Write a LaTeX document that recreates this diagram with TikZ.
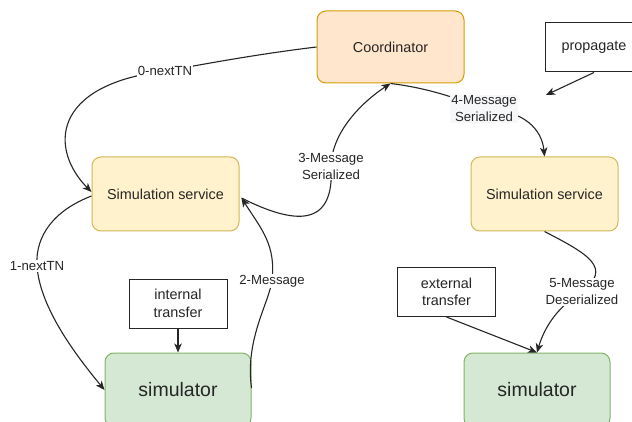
\documentclass[tikz,border=0pt]{standalone}
\usepackage{fontspec}
\setmainfont{Liberation Sans}
\usetikzlibrary{arrows.meta,calc}
\definecolor{orfill}{HTML}{FFE6CC}
\definecolor{orline}{HTML}{D79B00}
\definecolor{yefill}{HTML}{FFF2CC}
\definecolor{yeline}{HTML}{D6B656}
\definecolor{grfill}{HTML}{D5E8D4}
\definecolor{grline}{HTML}{82B366}
\definecolor{txt}{HTML}{262626}
\definecolor{labbg}{HTML}{F6F7F9}
\begin{document}
\begin{tikzpicture}[x=1pt,y=-1pt,
  rbox/.style={rectangle, rounded corners=9pt, line width=1pt, align=center, text=txt,
    font=\fontsize{14.4}{17}\selectfont, inner sep=0pt},
  coordbox/.style={rbox, fill=orfill, draw=orline, minimum width=147pt, minimum height=72pt},
  servbox/.style={rbox, fill=yefill, draw=yeline, minimum width=147pt, minimum height=74pt},
  simbox/.style={rbox, fill=grfill, draw=grline, minimum width=146pt, minimum height=74pt,
    font=\fontsize{19.5}{22}\selectfont},
  plainbox/.style={rectangle, draw=black!85, fill=white, line width=1pt, align=center, text=txt,
    font=\fontsize{14.4}{17.5}\selectfont, minimum width=98pt, minimum height=49pt, inner sep=0pt},
  edge/.style={draw=black!85, line width=1.1pt, -{Stealth[length=9pt,width=7.5pt,inset=2.5pt]}},
  lab/.style={fill=white, inner sep=1pt, text=txt, align=center, font=\fontsize{13.2}{17}\selectfont},
  labgray/.style={lab, fill=labbg}
]
\useasboundingbox (0,0) rectangle (632,422);
\clip (0,0) rectangle (632,422);
\fill[white] (0,0) rectangle (632,422);

% nodes
\node[coordbox] (coord) at (390.5,47) {Coordinator};
\node[servbox] (ss1) at (165.5,194) {Simulation service};
\node[servbox] (ss2) at (544.5,194) {Simulation service};
\node[simbox] (sim1) at (178,390) {simulator};
\node[simbox] (sim2) at (537,390) {simulator};
\node[plainbox] (int) at (178,303.5) {internal\\transfer};
\node[plainbox] (ext) at (446.5,292) {external\\transfer};
\node[plainbox] (prop) at (594,47.5) {propagate};
\coordinate (ptip) at (546,95);

% edges
\draw[edge] (coord.west) .. controls (250,55) and (195,66) .. (165,71) node[lab]{0-nextTN}
  .. controls (50,85) and (50,150) .. ($(ss1.west)+(0,-2)$);
\draw[edge] ($(ss1.west)+(0,2)$) .. controls (55,210) and (35,235) .. (37,266) node[lab]{1-nextTN}
  .. controls (40,310) and (80,360) .. (sim1.west);
\draw[edge] ($(sim1.east)+(0,-2)$) .. controls (245,340) and (268,305) .. (272,281) node[lab]{2-Message}
  .. controls (276,245) and (262,230) .. ($(ss1.east)+(2,4)$);
\draw[edge] ($(ss1.east)+(2,4)$) .. controls (295,225) and (335,228) .. (331,166) node[lab]{3-Message\\Serialized}
  .. controls (332,130) and (365,100) .. (coord.south);
\draw[edge] (coord.south) .. controls (420,87) and (450,95) .. (484,109) node[labgray]{4-Message\\Serialized}
  .. controls (525,110) and (542,130) .. (ss2.north);
\draw[edge] (prop.south) -- (ptip);
\draw[edge] (ss2.south) .. controls (590,255) and (612,268) .. (582,292) node[lab]{5-Message\\Deserialized}
  .. controls (560,305) and (545,325) .. (sim2.north);
\draw[edge] (ext.south) -- (sim2.north);
\draw[edge] (int.south) -- (sim1.north);
\end{tikzpicture}
\end{document}
